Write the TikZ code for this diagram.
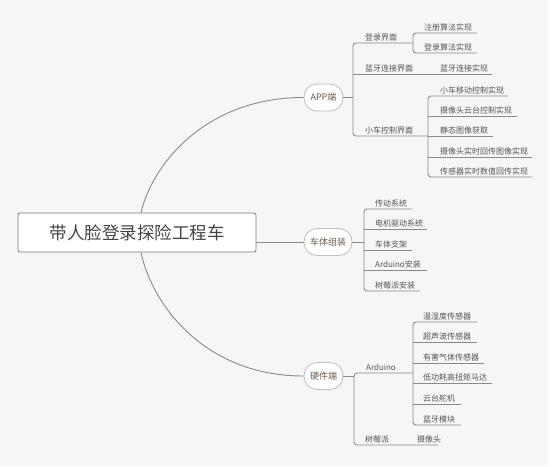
\documentclass[tikz,border=0pt]{standalone}
\usepackage{fontspec}
\setmainfont{Noto Sans CJK SC}
\usetikzlibrary{calc}
\definecolor{bg}{HTML}{F6F6F6}
\definecolor{ln}{HTML}{8A8A8A}
\definecolor{leaf}{HTML}{555555}
\definecolor{topic}{HTML}{6E5B4B}
\definecolor{ttl}{HTML}{444444}
\definecolor{pill}{HTML}{BDBDBD}
\definecolor{boxln}{HTML}{7A7A7A}
\begin{document}
\begin{tikzpicture}[x=1pt,y=-1pt,
  conn/.style={draw=ln, line width=0.9pt, rounded corners=3pt},
  leaftext/.style={anchor=base west, inner sep=0pt, text=leaf, font=\fontsize{8}{9}\selectfont},
  topicnode/.style={draw=pill, fill=white, line width=0.8pt, rounded corners=13pt, minimum height=27pt, text=topic, font=\fontsize{9}{10}\selectfont, inner sep=0pt},
  titlenode/.style={draw=boxln, fill=white, rounded corners=2pt, minimum width=238pt, minimum height=39pt, text=ttl, font=\fontsize{17.5}{20}\selectfont, line width=0.8pt, inner sep=0pt}]
\fill[white] (0,0) rectangle (553,466);
\fill[bg] (0,0) rectangle (548,466);
\useasboundingbox (0,0) rectangle (553,466);

% main nodes
\node[titlenode] (title) at (137,232.5) {带人脸登录探险工程车};
\node[topicnode, minimum width=39pt] (app) at (323.5,97.5) {APP端};
\node[topicnode, minimum width=48pt] (body) at (328,242) {车体组装};
\node[topicnode, minimum width=39pt] (hw) at (323.5,376) {硬件端};

% main connectors
\draw[conn] ($(title.north)+(4,0)$) .. controls (152,165) and (205,97.5) .. (app.west);
\draw[conn] ($(title.south)+(4,0)$) .. controls (152,305) and (205,376) .. (hw.west);
\draw[conn] (title.east |- body.west) -- (body.west);

% ---------- APP端 ----------
\coordinate (appb) at (353,97.5);
\draw[conn] (app.east) -- (appb);
\draw[conn] (413,43) -- (353,43) -- (353,136) -- (428,136);
\draw[conn] (353,74) -- (492,74);
\node[leaftext] (a1) at (365,40) {登录界面};
\node[leaftext] (a2) at (365,71) {蓝牙连接界面};
\node[leaftext] (a3) at (365,133) {小车控制界面};

\draw[conn] (477,33) -- (413,33) -- (413,53) -- (477,53);
\node[leaftext] (a11) at (424,30) {注册算法实现};
\node[leaftext] (a12) at (424,50) {登录算法实现};

\node[leaftext] (a21) at (440,71) {蓝牙连接实现};

\draw[conn] (508,96) -- (428,96) -- (428,177) -- (532,177);
\draw[conn] (428,116) -- (517,116);
\draw[conn] (428,136) -- (493,136);
\draw[conn] (428,157) -- (532,157);
\node[leaftext] (a31) at (440,93) {小车移动控制实现};
\node[leaftext] (a32) at (440,113) {摄像头云台控制实现};
\node[leaftext] (a33) at (440,133) {静态图像获取};
\node[leaftext] (a34) at (440,154) {摄像头实时回传图像实现};
\node[leaftext] (a35) at (440,174) {传感器实时数值回传实现};

% ---------- 车体组装 ----------
\draw[conn] (body.east) -- (364,242);
\draw[conn] (412,209) -- (364,209) -- (364,291) -- (420,291);
\draw[conn] (364,229) -- (427,229);
\draw[conn] (364,250) -- (412,250);
\draw[conn] (364,270) -- (427,270);
\node[leaftext] (b1) at (375,206) {传动系统};
\node[leaftext] (b2) at (375,226) {电机驱动系统};
\node[leaftext] (b3) at (375,247) {车体支架};
\node[leaftext] (b4) at (375,267) {Arduino安装};
\node[leaftext] (b5) at (375,288) {树莓派安装};

% ---------- 硬件端 ----------
\draw[conn] (hw.east) -- (354,376);
\draw[conn] (413,373) -- (354,373) -- (354,445) -- (438,445);
\node[leaftext] (c1) at (366,370) {Arduino};
\node[leaftext] (c2) at (365,442) {树莓派};
\node[leaftext] (c21) at (417,442) {摄像头};

\draw[conn] (477,322) -- (413,322) -- (413,425) -- (461,425);
\draw[conn] (413,342) -- (477,342);
\draw[conn] (413,363) -- (484,363);
\draw[conn] (413,383) -- (492,383);
\draw[conn] (413,404) -- (461,404);
\node[leaftext] (c11) at (423,319) {温湿度传感器};
\node[leaftext] (c12) at (423,339) {超声波传感器};
\node[leaftext] (c13) at (423,360) {有害气体传感器};
\node[leaftext] (c14) at (423,380) {低功耗高扭矩马达};
\node[leaftext] (c15) at (423,401) {云台舵机};
\node[leaftext] (c16) at (423,422) {蓝牙模块};
\end{tikzpicture}
\end{document}
